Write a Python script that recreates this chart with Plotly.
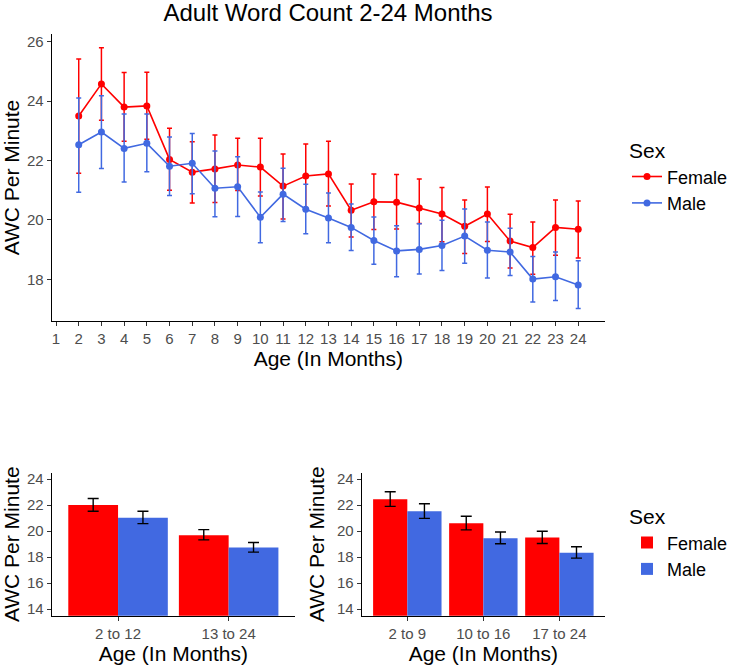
import plotly.graph_objects as go

FONT = "Liberation Sans, Arial, sans-serif"
RED = "#FF0000"
BLUE = "#4169E1"

# ---------------- Top chart data ----------------
ages = list(range(2, 25))
age_ticks = list(range(1, 25))

female_mean = [23.50, 24.58, 23.80, 23.84, 22.04, 21.61, 21.72, 21.85, 21.78, 21.14, 21.48, 21.55,
               20.33, 20.61, 20.60, 20.40, 20.20, 19.79, 20.20, 19.29, 19.07, 19.75, 19.69]
female_upper = [25.42, 25.80, 24.96, 24.97, 23.09, 22.63, 22.86, 22.75, 22.75, 22.22, 22.56, 22.65,
                21.21, 21.55, 21.53, 21.38, 21.09, 20.67, 21.11, 20.19, 19.93, 20.67, 20.64]
female_lower = [21.57, 23.36, 22.65, 22.72, 21.00, 20.57, 20.59, 20.99, 20.81, 20.03, 20.37, 20.47,
                19.43, 19.68, 19.70, 19.88, 19.27, 18.87, 19.28, 18.38, 18.17, 18.81, 18.72]

male_mean = [22.53, 22.96, 22.41, 22.58, 21.81, 21.91, 21.07, 21.12, 20.09, 20.87, 20.36, 20.07,
             19.75, 19.31, 18.96, 19.01, 19.14, 19.46, 18.98, 18.92, 18.01, 18.09, 17.81]
male_upper = [24.11, 24.18, 23.57, 23.57, 22.79, 22.91, 22.32, 22.13, 20.94, 21.74, 21.20, 20.91,
              20.54, 20.10, 19.81, 19.87, 19.99, 20.37, 19.93, 19.72, 18.77, 18.92, 18.63]
male_lower = [20.93, 21.73, 21.28, 21.62, 20.82, 20.88, 20.11, 20.12, 19.23, 19.95, 19.54, 19.23,
              18.97, 18.51, 18.09, 18.18, 18.30, 18.54, 18.05, 18.13, 17.24, 17.29, 17.02]

# ---------------- Bottom-left data ----------------
groups2 = ["2 to 12", "13 to 24"]
f2_mean = [22.01, 19.69]
f2_upper = [22.52, 20.12]
f2_lower = [21.53, 19.33]
m2_mean = [21.04, 18.74]
m2_upper = [21.53, 19.13]
m2_lower = [20.58, 18.39]

# ---------------- Bottom-right data ----------------
groups3 = ["2 to 9", "10 to 16", "17 to 24"]
f3_mean = [22.45, 20.61, 19.51]
f3_upper = [23.03, 21.15, 20.00]
f3_lower = [21.91, 20.10, 19.05]
m3_mean = [21.53, 19.46, 18.34]
m3_upper = [22.11, 19.94, 18.80]
m3_lower = [20.99, 19.03, 17.93]


def err(mean, up, lo, color, width, thick):
    return dict(type="data", symmetric=False,
                array=[u - m for u, m in zip(up, mean)],
                arrayminus=[m - l for m, l in zip(mean, lo)],
                color=color, width=width, thickness=thick)


fig = go.Figure()

for name, mean, up, lo, col in [("Female", female_mean, female_upper, female_lower, RED),
                                ("Male", male_mean, male_upper, male_lower, BLUE)]:
    fig.add_trace(go.Scatter(
        x=ages, y=mean, name=name, mode="lines+markers",
        line=dict(color=col, width=1.6), marker=dict(color=col, size=7),
        error_y=err(mean, up, lo, col, 2.5, 1.5),
        xaxis="x", yaxis="y", legend="legend"))

for name, mean, up, lo, col in [("Female", f2_mean, f2_upper, f2_lower, RED),
                                ("Male", m2_mean, m2_upper, m2_lower, BLUE)]:
    fig.add_trace(go.Bar(
        x=groups2, y=mean, name=name, marker=dict(color=col, line=dict(width=0)),
        error_y=err(mean, up, lo, "black", 5.5, 1.4),
        xaxis="x2", yaxis="y2", legend="legend2"))

for name, mean, up, lo, col in [("Female", f3_mean, f3_upper, f3_lower, RED),
                                ("Male", m3_mean, m3_upper, m3_lower, BLUE)]:
    fig.add_trace(go.Bar(
        x=groups3, y=mean, name=name, marker=dict(color=col, line=dict(width=0)),
        error_y=err(mean, up, lo, "black", 5.5, 1.4),
        xaxis="x3", yaxis="y3", legend="legend2", showlegend=False))

W, H = 736, 665
def px_x(v):
    return v / W
def px_y(v):
    return 1 - v / H

axis_common = dict(showline=True, linecolor="black", linewidth=1.2,
                   ticks="outside", ticklen=4, tickwidth=1.1, tickcolor="#333333",
                   tickfont=dict(family=FONT, size=15, color="#4d4d4d"),
                   showgrid=False, zeroline=False, automargin=False)
title_font = dict(family=FONT, size=21, color="black")

fig.update_layout(
    width=W, height=H,
    margin=dict(l=0, r=0, t=0, b=0, autoexpand=False),
    paper_bgcolor="white", plot_bgcolor="white",
    font=dict(family=FONT, color="black"),
    title=dict(text="Adult Word Count 2-24 Months", x=px_x(328), xanchor="center",
               y=px_y(13), yanchor="middle", xref="paper", yref="paper",
               font=dict(family=FONT, size=24, color="black")),
    barmode="group", bargap=0.1, bargroupgap=0,
    xaxis=dict(domain=[px_x(51.7), px_x(605)], range=[0.81, 25.18],
               tickmode="array", tickvals=age_ticks, ticktext=[str(a) for a in age_ticks],
               title=dict(text="Age (In Months)", font=title_font, standoff=4),
               anchor="y", **axis_common),
    yaxis=dict(domain=[px_y(321), px_y(34)], range=[16.6, 26.26],
               tickmode="array", tickvals=[18, 20, 22, 24, 26],
               title=dict(text="AWC Per Minute", font=title_font, standoff=6),
               anchor="x", **axis_common),
    xaxis2=dict(domain=[px_x(51.7), px_x(295)], range=[-0.6, 1.6], type="category",
                title=dict(text="Age (In Months)", font=title_font, standoff=4),
                anchor="y2", **axis_common),
    yaxis2=dict(domain=[px_y(615.7), px_y(472.7)], range=[13.5, 24.5],
                tickmode="array", tickvals=[14, 16, 18, 20, 22, 24],
                title=dict(text="AWC Per Minute", font=title_font, standoff=6),
                anchor="x2", **axis_common),
    xaxis3=dict(domain=[px_x(361.7), px_x(605)], range=[-0.6, 2.6], type="category",
                title=dict(text="Age (In Months)", font=title_font, standoff=4),
                anchor="y3", **axis_common),
    yaxis3=dict(domain=[px_y(615.7), px_y(472.7)], range=[13.5, 24.5],
                tickmode="array", tickvals=[14, 16, 18, 20, 22, 24],
                title=dict(text="AWC Per Minute", font=title_font, standoff=6),
                anchor="x3", **axis_common),
    legend=dict(x=px_x(627), xanchor="left", y=px_y(131), yanchor="top",
                title=dict(text="Sex", font=dict(family=FONT, size=21, color="black")),
                font=dict(family=FONT, size=18, color="black"),
                bgcolor="rgba(0,0,0,0)", borderwidth=0, itemwidth=30),
    legend2=dict(x=px_x(627), xanchor="left", y=px_y(497), yanchor="top",
                 title=dict(text="Sex", font=dict(family=FONT, size=21, color="black")),
                 font=dict(family=FONT, size=18, color="black"),
                 bgcolor="rgba(0,0,0,0)", borderwidth=0, itemwidth=30),
)

fig.write_html("out.html", config={"displayModeBar": False},
               post_script="document.body.style.margin='0px';document.body.style.overflow='hidden';")
